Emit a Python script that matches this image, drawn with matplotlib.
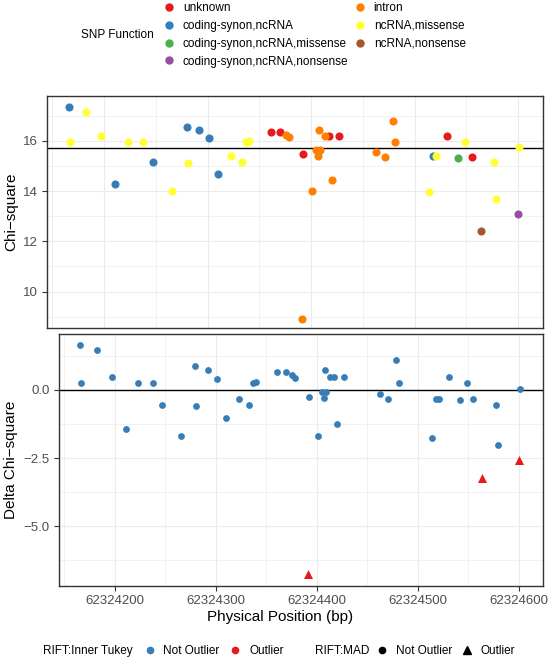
import matplotlib
matplotlib.use("Agg")
import matplotlib.pyplot as plt
from matplotlib.lines import Line2D
from matplotlib.ticker import MultipleLocator, FixedLocator
import numpy as np

plt.rcParams['font.family'] = ['Liberation Sans', 'DejaVu Sans']

# ---- data ----
position = [62324166, 62324167, 62324183, 62324197, 62324211, 62324223, 62324238,
            62324247, 62324266, 62324280, 62324281, 62324292, 62324301, 62324310,
            62324323, 62324333, 62324337, 62324340, 62324361, 62324370, 62324376,
            62324379, 62324391, 62324392, 62324401, 62324405, 62324407, 62324408,
            62324409, 62324413, 62324417, 62324420, 62324427, 62324463, 62324471,
            62324479, 62324481, 62324514, 62324518, 62324521, 62324531, 62324542,
            62324549, 62324555, 62324564, 62324577, 62324579, 62324600, 62324601]

chi_square = [17.37, 15.95, 17.16, 16.21, 14.28, 15.95, 15.95,
              15.15, 14.01, 16.56, 15.12, 16.43, 16.11, 14.67,
              15.39, 15.15, 15.97, 16.01, 16.36, 16.36, 16.23,
              16.17, 8.91, 15.47, 14.01, 15.64, 15.39, 16.44,
              15.64, 16.19, 16.19, 14.45, 16.19, 15.56, 15.37,
              16.79, 15.96, 13.96, 15.41, 15.40, 16.19, 15.33,
              15.96, 15.37, 12.43, 15.16, 13.68, 13.09, 15.75]

delta_chi_square = [1.65, 0.25, 1.45, 0.49, -1.42, 0.25, 0.25,
                    -0.55, -1.68, 0.86, -0.59, 0.72, 0.40, -1.03,
                    -0.32, -0.56, 0.25, 0.29, 0.65, 0.65, 0.53,
                    0.45, -6.74, -0.25, -1.68, -0.09, -0.31, 0.74,
                    -0.09, 0.47, 0.47, -1.25, 0.48, -0.15, -0.32,
                    1.08, 0.25, -1.75, -0.33, -0.33, 0.48, -0.38,
                    0.25, -0.32, -3.22, -0.55, -2.02, -2.57, 0.02]

snp_function = ['coding-synon,ncRNA', 'ncRNA,missense', 'ncRNA,missense', 'ncRNA,missense',
                'coding-synon,ncRNA', 'ncRNA,missense', 'ncRNA,missense',
                'coding-synon,ncRNA', 'ncRNA,missense', 'coding-synon,ncRNA',
                'ncRNA,missense', 'coding-synon,ncRNA', 'coding-synon,ncRNA',
                'coding-synon,ncRNA', 'ncRNA,missense', 'ncRNA,missense',
                'ncRNA,missense', 'ncRNA,missense', 'unknown', 'unknown', 'intron',
                'intron', 'intron', 'unknown', 'intron', 'intron', 'intron', 'intron',
                'intron', 'intron', 'unknown', 'intron', 'unknown', 'intron', 'intron',
                'intron', 'intron', 'ncRNA,missense', 'coding-synon,ncRNA',
                'ncRNA,missense', 'unknown', 'coding-synon,ncRNA,missense',
                'ncRNA,missense', 'unknown', 'ncRNA,nonsense', 'ncRNA,missense',
                'ncRNA,missense', 'coding-synon,ncRNA,nonsense', 'ncRNA,missense']

# outlier calls (indices into the lists above)
tukey_outlier_idx = [22, 44, 47]
mad_outlier_idx = [22, 44, 47]

chi_threshold = 15.71

function_levels = ['unknown', 'coding-synon,ncRNA', 'coding-synon,ncRNA,missense',
                   'coding-synon,ncRNA,nonsense', 'intron', 'ncRNA,missense',
                   'ncRNA,nonsense']
function_colors = ['#E41A1C', '#377EB8', '#4DAF4A', '#984EA3', '#FF7F00', '#FFFF33', '#A65628']

tukey_labels = ['Not Outlier', 'Outlier']
tukey_colors = ['#377EB8', '#E41A1C']
mad_labels = ['Not Outlier', 'Outlier']
mad_markers = ['o', '^']

x_ticks = [62324200, 62324300, 62324400, 62324500, 62324600]

# ---- figure ----
W, H = 559, 671
fig = plt.figure(figsize=(W / 100, H / 100), dpi=100)

def frac(x0, y0, x1, y1):
    # pixel box (top-left origin) -> figure fraction rect
    return [x0 / W, 1 - y1 / H, (x1 - x0) / W, (y1 - y0) / H]

ax_top = fig.add_axes(frac(47, 96, 543, 328))
ax_bot = fig.add_axes(frac(59, 334, 543, 586))

grid_col = '#EBEBEB'
for ax in (ax_top, ax_bot):
    ax.set_xlim(62324145, 62324624)
    ax.xaxis.set_major_locator(FixedLocator(x_ticks))
    ax.xaxis.set_minor_locator(FixedLocator([t - 50 for t in x_ticks] + [x_ticks[-1] + 50]))
    ax.grid(True, which='major', color=grid_col, lw=0.8, zorder=0)
    ax.grid(True, which='minor', color=grid_col, lw=0.5, zorder=0)
    ax.set_axisbelow(True)
    for s in ax.spines.values():
        s.set_color('#333333')
        s.set_linewidth(1.0)
    ax.tick_params(which='major', length=3.5, width=0.8, color='#333333',
                   labelsize=9.5, labelcolor='#4D4D4D', pad=3)
    ax.tick_params(which='minor', length=0)

pos = np.array(position)
chi = np.array(chi_square)
dchi = np.array(delta_chi_square)

# top panel: chi-square coloured by SNP function
for lvl, col in zip(function_levels, function_colors):
    m = np.array([f == lvl for f in snp_function])
    ax_top.scatter(pos[m], chi[m], s=34, color=col, linewidths=0, zorder=3)
ax_top.axhline(chi_threshold, color='black', lw=1.0, zorder=2)
ax_top.set_ylim(8.55, 17.79)
ax_top.yaxis.set_major_locator(MultipleLocator(2))
ax_top.yaxis.set_minor_locator(FixedLocator([9, 11, 13, 15, 17]))
ax_top.tick_params(axis='x', which='both', length=0, labelbottom=False)

# bottom panel: delta chi-square, colour = Tukey, shape = MAD
tukey = np.zeros(len(pos), dtype=int)
tukey[tukey_outlier_idx] = 1
mad = np.zeros(len(pos), dtype=int)
mad[mad_outlier_idx] = 1
for ti, tcol in enumerate(tukey_colors):
    for mi, mk in enumerate(mad_markers):
        m = (tukey == ti) & (mad == mi)
        if m.any():
            ax_bot.scatter(pos[m], dchi[m], s=24 if mk == 'o' else 42, color=tcol,
                           marker=mk, linewidths=0, zorder=3)
ax_bot.axhline(0, color='black', lw=1.0, zorder=2)
ax_bot.set_ylim(-7.19, 2.05)
ax_bot.yaxis.set_major_locator(FixedLocator([-5.0, -2.5, 0.0]))
ax_bot.yaxis.set_minor_locator(FixedLocator([-6.25, -3.75, -1.25, 1.25]))
ax_bot.set_yticklabels(['\u22125.0', '\u22122.5', '0.0'])
ax_bot.set_xticklabels([str(t) for t in x_ticks])

# axis titles
fig.text(11.5 / W, 1 - 212 / H, 'Chi\u2212square', rotation=90, ha='center', va='center',
         fontsize=11)
fig.text(11.5 / W, 1 - 460 / H, 'Delta Chi\u2212square', rotation=90, ha='center',
         va='center', fontsize=11)
fig.text(280 / W, 1 - 617 / H, 'Physical Position (bp)', ha='center', va='center',
         fontsize=11)

# top legend
fs_leg = 8.5
fig.text(81 / W, 1 - 35 / H, 'SNP Function', ha='left', va='center', fontsize=fs_leg)
handles = [Line2D([], [], marker='o', ls='', color=c, markersize=5) for c in function_colors]
fig.legend(handles, function_levels, ncol=2, loc='center left',
           bbox_to_anchor=(164.5 / W, 1 - 34.7 / H), frameon=False, fontsize=fs_leg,
           borderpad=0, borderaxespad=0, handlelength=0.8, handletextpad=0.75,
           columnspacing=0.6, labelspacing=0.5)

# bottom legends
fig.text(42.7 / W, 1 - 651 / H, 'RIFT:Inner Tukey', ha='left', va='center', fontsize=fs_leg)
h1 = [Line2D([], [], marker='o', ls='', color=c, markersize=4.5) for c in tukey_colors]
fig.legend(h1, tukey_labels, ncol=2, loc='center left',
           bbox_to_anchor=(145 / W, 1 - 651 / H), frameon=False, fontsize=fs_leg,
           borderpad=0, borderaxespad=0, handlelength=0.8, handletextpad=0.75,
           columnspacing=0.95)
fig.text(315 / W, 1 - 651 / H, 'RIFT:MAD', ha='left', va='center', fontsize=fs_leg)
h2 = [Line2D([], [], marker=m, ls='', color='black', markersize=4.5 if m == 'o' else 5.5)
      for m in mad_markers]
fig.legend(h2, mad_labels, ncol=2, loc='center left',
           bbox_to_anchor=(377.3 / W, 1 - 651 / H), frameon=False, fontsize=fs_leg,
           borderpad=0, borderaxespad=0, handlelength=0.8, handletextpad=0.75,
           columnspacing=0.9)

fig.savefig('out.png', dpi=100)
